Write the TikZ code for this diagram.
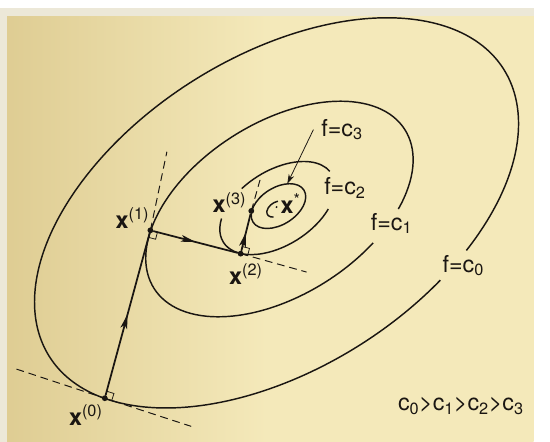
\documentclass[tikz,border=0pt]{standalone}
\usepackage{fontspec}
\setmainfont{TeX Gyre Heros}
\usetikzlibrary{arrows.meta, calc, decorations.markings}

\definecolor{paperlight}{RGB}{244,233,186}
\definecolor{paperdark}{RGB}{222,204,146}
\definecolor{paperedge}{RGB}{236,232,216}
\definecolor{ink}{RGB}{26,22,18}

\begin{document}
\begin{tikzpicture}[x=1pt, y=1pt, >={Stealth[length=10pt, width=6pt]},
        level/.style={ink, line width=1.5pt, shift={#1}, rotate=32.3},
        descent/.style={ink, line width=1.8pt},
        midarrow/.style={postaction={decorate}, decoration={markings,
            mark=at position 0.5 with {\arrow{Stealth[length=15pt, width=7pt, inset=3.5pt]}}}},
        tangent/.style={ink, line width=1pt, dash pattern=on 8pt off 5pt},
        corner/.style={ink, line width=0.8pt},
        dot/.style={circle, fill=ink, inner sep=0pt, minimum size=6pt},
        smalldot/.style={circle, fill=ink, inner sep=0pt, minimum size=2.2pt},
        txt/.style={text=ink, inner sep=0pt, font=\fontsize{24}{28}\selectfont}]

    % --- tło (zdjęcie strony) ---
    \shade[left color=paperdark, right color=paperlight, middle color=paperlight] (0,0) rectangle (550,447);
    \fill[paperedge] (0,439) rectangle (550,447);
    \fill[paperedge] (0,0) rectangle (7,447);

    % --- środki poziomic ---
    \coordinate (c0) at (285,236);
    \coordinate (c1) at (288,240);
    \coordinate (c2) at (286,241);
    \coordinate (c3) at (287,243);
    \coordinate (c4) at (285,240);

    % --- poziomice f = c_i ---
    \draw[level={(c0)}] (-58.5:277 and 161) arc[start angle=-58.5, end angle=292.4, x radius=277, y radius=161];
    \draw[level={(c1)}] (-47.4:153 and 89) arc[start angle=-47.4, end angle=294.3, x radius=153, y radius=89];
    \draw[level={(c2)}] (4.8:66 and 38.5) arc[start angle=4.8, end angle=108, x radius=66, y radius=38.5];
    \draw[level={(c2)}] (145.7:66 and 38.5) arc[start angle=145.7, end angle=311.5, x radius=66, y radius=38.5];
    \draw[level={(c3)}] (0,0) ellipse[x radius=31, y radius=19];
    \draw[level={(c4)}] (60:11 and 7) arc[start angle=60, end angle=230, x radius=11, y radius=7];

    % --- kolejne punkty ---
    \node[dot] (x0) at (108,45) {};
    \node[dot] (x1) at (155,218) {};
    \node[dot] (x2) at (248,194) {};
    \node[dot] (x3) at (259,238) {};
    \node[smalldot] (xs) at (285,242) {};

    % --- styczne ---
    \coordinate (t0a) at (17,75);
    \coordinate (t0b) at (197,16);
    \coordinate (t1) at (172,299);
    \coordinate (t2) at (316,175);
    \coordinate (t3) at (268,270);
    \draw[tangent] (t0a) -- (x0.center) -- (t0b);
    \draw[tangent] (x1.center) -- (t1);
    \draw[tangent] (x2.center) -- (t2);
    \draw[tangent] (x3.center) -- (t3);

    % --- kroki metody ---
    \draw[descent, midarrow] (x0) -- (x1);
    \draw[descent, midarrow] (x1) -- (x2);
    \draw[descent, midarrow] (x2) -- (x3);

    % --- kąty proste ---
    \draw[corner, shift={(x0.center)}, rotate=-18] (0,0) rectangle (7.5,7.5);
    \draw[corner, shift={(x1.center)}, rotate=-14.5] (0,0) rectangle (7.5,-7.5);
    \draw[corner, shift={(x2.center)}, rotate=-14.5] (0,0) rectangle (7.5,7.5);

    % --- opisy ---
    \node[txt, anchor=base west] (lx0) at (71,17) {\textbf{x}\textsuperscript{(0)}};
    \node[txt, anchor=base west] (lx1) at (119,220) {\textbf{x}\textsuperscript{(1)}};
    \node[txt, anchor=base west] (lx2) at (236,162) {\textbf{x}\textsuperscript{(2)}};
    \node[txt, anchor=base west] (lx3) at (219,236) {\textbf{x}\textsuperscript{(3)}};
    \node[txt, anchor=base west] (lxs) at (289,235) {\textbf{x}\textsuperscript{*}};
    \node[txt, anchor=base west] (lc0) at (456,175) {f=c\textsubscript{0}};
    \node[txt, anchor=base west] (lc1) at (382,218) {f=c\textsubscript{1}};
    \node[txt, anchor=base west] (lc2) at (334,255) {f=c\textsubscript{2}};
    \node[txt, anchor=base west] (lc3) at (331,315) {f=c\textsubscript{3}};
    \node[txt, anchor=base west] (order) at (410,32) {c\textsubscript{0}>c\textsubscript{1}>c\textsubscript{2}>c\textsubscript{3}};

    % --- strzałka do poziomicy c_3 ---
    \path[shift={(c3)}, rotate=32.3] (50:31 and 19) coordinate (p3);
    \draw[ink, line width=0.8pt, ->] ([xshift=-8pt]lc3.west) -- (p3);

\end{tikzpicture}
\end{document}
